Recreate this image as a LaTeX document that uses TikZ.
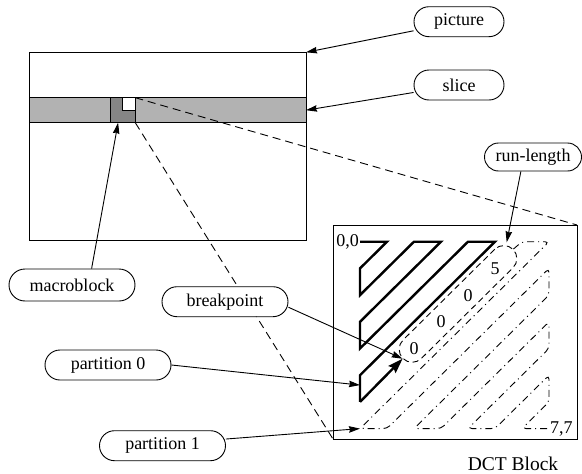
\documentclass[tikz,border=0pt]{standalone}
\usepackage{fontspec}
\setmainfont{Liberation Serif}
\usetikzlibrary{arrows.meta}

\begin{document}
\begin{tikzpicture}[x=1pt,y=-1pt,
    every node/.style={font=\fontsize{18}{21}\selectfont},
    box/.style={draw, line width=0.9pt, inner sep=0pt, outer sep=0pt, anchor=north west},
    tag/.style={draw, rectangle, line width=0.9pt, fill=white, rounded corners=15pt,
      minimum height=30pt, minimum width=126pt},
    ptr/.style={line width=0.9pt, -{Stealth[length=11pt,width=6.5pt,inset=1pt]}},
    zoomline/.style={line width=0.9pt, dash pattern=on 8pt off 5pt},
    part0/.style={line width=2.4pt, line join=miter},
    part1/.style={line width=0.9pt, rounded corners=4pt, dash pattern=on 7pt off 4pt on 1pt off 4pt}]
    \useasboundingbox (0,0) rectangle (582,474);

    % picture, slice and macroblock
    \node[box, minimum width=277pt, minimum height=188.4pt] (frame) at (29,52.3) {};
    \node[box, fill=black!30, minimum width=277pt, minimum height=25pt] (slicebar) at (29,97.7) {};
    \node[box, fill=black!48, minimum width=25.3pt, minimum height=25pt] (mb) at (110,97.7) {};
    \node[box, fill=white, anchor=north east, minimum width=13pt, minimum height=12.3pt] (blk) at (135.3,97.7) {};

    % DCT block
    \node[box, minimum width=244pt, minimum height=214pt] (dct) at (333,225) {};
    \node[anchor=base, inner sep=0pt] (dctname) at (513,470.5) {\fontsize{19.5}{23}\selectfont DCT Block};

    \draw[zoomline] (blk.north east) -- (dct.north east);
    \draw[zoomline] (mb.south east) -- (dct.south west);

    \begin{scope}[shift={(360,241.7)}, x=27pt, y=-26.7pt]
      \node[anchor=east, inner sep=1pt] (origin) at (0,0) {0,0};
      \node[anchor=west, inner sep=1pt] (corner) at (7,7) {7,7};
      \draw[part0] (0,0) -- (1,0) -- (0,1) -- (0,2) -- (2,0) -- (3,0) -- (0,3) -- (0,4)
        -- (4,0) -- (5,0) -- (0,5) -- (0,6);
      \node[draw, line width=0.9pt, dash pattern=on 6pt off 4pt, rotate=44.7,
        rounded corners=13pt, minimum width=155pt, minimum height=26pt] (runloop) at (3.63,2.33) {};
      \node (c24) at (2,4) {0};
      \node (c33) at (3,3) {0};
      \node (c42) at (4,2) {0};
      \node (c51) at (5,1) {5};
      \draw[part0, -{Stealth[length=15pt,width=10pt,inset=2pt]}] (0,6) -- (runloop.west);
      \draw[part1] (runloop.east) -- (6,0) -- (7,0) -- (0,7) -- (1,7) -- (7,1) -- (7,2) -- (2,7)
        -- (3,7) -- (7,3) -- (7,4) -- (4,7) -- (5,7) -- (7,5) -- (7,6) -- (6,7) -- (7,7);
      \coordinate (p0tip) at (0,5.37);
      \coordinate (p1tip) at (0,7);
    \end{scope}

    % labels
    \node[tag, minimum width=90pt] (picture) at (459,21.7) {picture};
    \node[tag, minimum width=90pt] (slice) at (459,85) {slice};
    \node[tag, minimum width=97pt, minimum height=28pt, rounded corners=14pt] (runlength) at (533,157) {run-length};
    \node[tag, minimum height=32pt, rounded corners=16pt] (macroblock) at (72,285) {macroblock};
    \node[tag] (breakpoint) at (225,301.7) {breakpoint};
    \node[tag] (partition0) at (108,365) {partition 0};
    \node[tag] (partition1) at (162.5,445.7) {partition 1};

    \draw[ptr] (picture) -- (frame.north east);
    \draw[ptr] (slice) -- (slicebar.east);
    \draw[ptr] (runlength.230) -- (runloop.7);
    \draw[ptr] (macroblock.40) -- (mb.-110);
    \draw[ptr] (breakpoint.-5) -- (runloop.west);
    \draw[ptr] (partition0.east) -- (p0tip);
    \draw[ptr] (partition1.6) -- (p1tip);
  \end{tikzpicture}
\end{document}
